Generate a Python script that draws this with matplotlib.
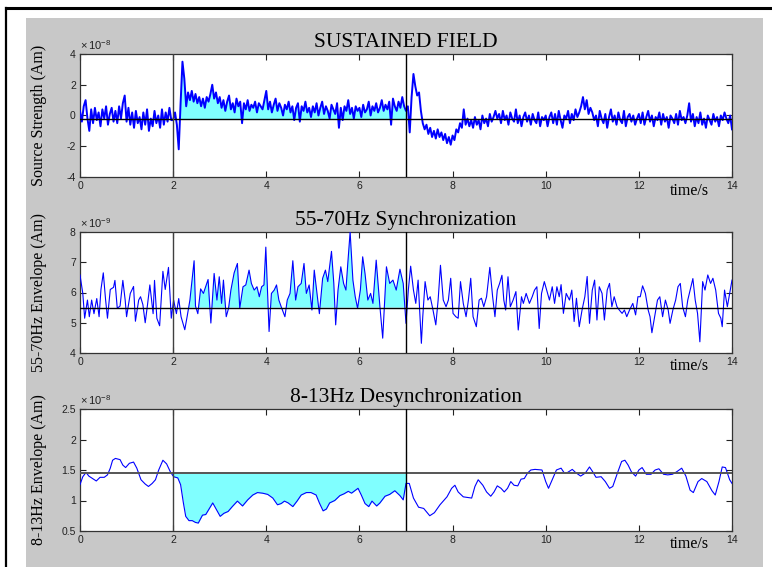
import numpy as np
import matplotlib.pyplot as plt
from matplotlib.patches import Rectangle
from matplotlib.lines import Line2D

# ---- panel 1: source strength, units of 1e-9 Am, sampled every 0.04 s ----
src_strength = [
    3, -4, 6, 10, -2, -10, 4, -5, 5, -3, 2, -7, 4, -2, 6, -6, 1, 5, -4, 3, -5, 6, -2, 8, 13,
    -4, 5, -6, 2, -8, 3, -5, -1, -9, 2, -6, 4, -10, -2, -7, 3, -5, 0, -8, 4, -6, 2, -4, 5, -3,
    -3, 2, -6, -22, 8, 35, 24, 6, 15, 10, 16, 9, 14, 8, 12, 6, 11, 5, 12, 9, 14, 20, 11, 15, 8,
    12, 5, 10, 3, 9, 13, 4, 8, 2, 11, 6, 9, -5, 8, 4, 10, 3, 7, 5, 9, 2, 8, 6, 4, 10,
    16, 4, 9, 2, 7, 11, 3, 8, 5, 0, 7, 4, 9, 2, 6, -3, 5, 8, -4, 6, 3, 9, 2, 5, -1,
    6, 2, 8, 0, 5, 9, 1, 6, 3, -2, 7, 4, 1, 8, -8, 5, -3, 6, 3, 10, 1, 5, -2, 6, 3,
    5, -1, 7, 2, 4, 9, 0, 6, 3, 8, 2, 5, 10, 3, 7, 4, 9, -6, 11, 6, 3, 9, 5, 12, 6,
    3, 6, -11, 12, 27, 19, 13, 15, 3, -5, -9, -6, -12, -8, -14, -10, -15, -9, -14, -11, -16, -12, -18, -14, -19,
    -13, -16, -9, -11, -5, -8, 4, -6, -2, -7, -3, -8, -1, -6, -3, -9, 0, -5, -2, -7, 1, -4, -1, 3, -2,
    1, -5, 3, -3, 0, -6, 2, -2, -4, 4, -5, 0, -7, -1, 2, -4, 0, -6, 1, -3, -5, 2, -7, -1, -3,
    0, -7, -1, 2, -5, 1, -6, 3, -3, -8, 0, -2, 3, -5, 1, -3, 4, -1, 2, 6, 12, 4, 10, 1, 5,
    2, -3, 0, -7, 3, -2, -5, 1, -8, -1, 4, -4, 0, -6, 2, -3, -5, 3, -7, -1, 1, -4, 0, -6, -2,
    1, -5, 2, -6, -1, 3, -4, 0, -7, -1, -3, 2, -6, 1, -4, -1, -8, 0, -2, -5, 1, -6, 3, -3, -1,
    -5, 0, 8, -4, 1, -7, -1, -5, 2, -6, -2, -8, 0, -3, -6, 1, -4, -1, -7, 0, -3, 2, -2, -5, 0, -9,
]
src_base = -0.23

# ---- panel 2: 55-70Hz envelope, units of 1e-9 Am ----
gamma_t = [
    0.00, 0.06, 0.10, 0.16, 0.20, 0.25, 0.30, 0.36, 0.41, 0.45, 0.50, 0.55, 0.59, 0.65, 0.72, 0.75,
    0.80, 0.86, 0.92, 0.97, 1.00, 1.08, 1.15, 1.19, 1.26, 1.30, 1.35, 1.40, 1.45, 1.50, 1.57, 1.60,
    1.65, 1.71, 1.78, 1.83, 1.90, 1.96, 2.01, 2.07, 2.12, 2.17, 2.25, 2.30, 2.36, 2.45, 2.48, 2.53,
    2.59, 2.65, 2.70, 2.75, 2.81, 2.88, 2.94, 2.99, 3.04, 3.08, 3.14, 3.19, 3.24, 3.31, 3.38, 3.43,
    3.50, 3.56, 3.63, 3.68, 3.74, 3.80, 3.85, 3.90, 3.95, 3.99, 4.03, 4.06, 4.11, 4.17, 4.22, 4.27,
    4.32, 4.40, 4.45, 4.51, 4.57, 4.63, 4.68, 4.75, 4.81, 4.86, 4.92, 4.98, 5.03, 5.09, 5.14, 5.21,
    5.27, 5.32, 5.40, 5.45, 5.49, 5.54, 5.60, 5.66, 5.71, 5.75, 5.80, 5.86, 5.91, 5.96, 6.02, 6.07,
    6.12, 6.18, 6.24, 6.29, 6.36, 6.44, 6.50, 6.58, 6.65, 6.72, 6.79, 6.87, 6.94, 7.00, 7.05, 7.10,
    7.16, 7.21, 7.26, 7.33, 7.36, 7.41, 7.47, 7.52, 7.58, 7.64, 7.69, 7.74, 7.80, 7.86, 7.91, 7.96,
    8.01, 8.07, 8.12, 8.17, 8.23, 8.29, 8.34, 8.39, 8.44, 8.51, 8.57, 8.62, 8.67, 8.73, 8.80, 8.86,
    8.91, 8.96, 9.01, 9.06, 9.10, 9.14, 9.19, 9.24, 9.30, 9.36, 9.41, 9.48, 9.52, 9.58, 9.65, 9.71,
    9.76, 9.81, 9.86, 9.91, 9.97, 10.02, 10.08, 10.14, 10.19, 10.24, 10.29, 10.33, 10.38, 10.44, 10.51, 10.56,
    10.61, 10.66, 10.72, 10.78, 10.84, 10.89, 10.94, 11.00, 11.05, 11.10, 11.15, 11.21, 11.26, 11.32, 11.37, 11.42,
    11.47, 11.53, 11.58, 11.64, 11.69, 11.74, 11.80, 11.87, 11.93, 11.98, 12.03, 12.08, 12.14, 12.20, 12.24, 12.28,
    12.34, 12.40, 12.45, 12.51, 12.57, 12.63, 12.67, 12.73, 12.79, 12.84, 12.89, 12.94, 13.00, 13.05, 13.10, 13.16,
    13.21, 13.26, 13.31, 13.37, 13.42, 13.48, 13.54, 13.59, 13.65, 13.71, 13.76, 13.79, 13.84, 13.90, 13.95, 14.00,
]
gamma_env = [
    6.58, 5.97, 5.15, 5.75, 5.20, 5.75, 5.30, 5.80, 5.20, 6.10, 6.65, 5.75, 5.15, 6.10, 6.17, 6.40,
    5.48, 5.55, 6.40, 5.75, 5.20, 5.97, 6.20, 5.05, 5.75, 5.86, 5.60, 5.00, 5.60, 6.25, 5.30, 6.40,
    5.15, 4.90, 6.70, 6.10, 6.83, 5.15, 5.75, 5.30, 5.80, 5.20, 4.77, 5.20, 5.75, 7.05, 5.55, 5.30,
    6.12, 5.97, 6.20, 6.43, 4.99, 6.63, 5.75, 6.52, 5.64, 6.41, 5.20, 5.48, 6.08, 6.65, 6.96, 5.48,
    6.19, 6.25, 6.74, 6.30, 6.08, 6.19, 5.86, 6.19, 6.25, 7.50, 5.86, 4.71, 5.97, 6.08, 6.25, 5.75,
    5.53, 5.20, 5.75, 5.97, 7.05, 5.75, 6.19, 6.30, 6.96, 5.97, 6.25, 5.42, 6.74, 5.97, 5.30, 6.47,
    6.74, 6.36, 7.36, 6.30, 4.93, 6.08, 6.85, 6.30, 6.08, 6.96, 8.00, 6.41, 5.86, 5.48, 6.08, 7.18,
    6.63, 5.75, 5.97, 5.64, 7.07, 5.53, 4.49, 6.85, 6.30, 6.41, 6.08, 6.77, 6.30, 4.98, 6.08, 6.87,
    6.08, 5.64, 6.41, 4.32, 5.20, 6.36, 5.75, 5.86, 5.42, 4.93, 5.75, 6.90, 5.75, 5.53, 5.75, 6.47,
    5.31, 5.20, 5.15, 6.36, 5.64, 5.20, 5.75, 6.47, 5.20, 4.87, 5.75, 5.81, 5.53, 5.86, 6.83, 5.86,
    5.20, 6.08, 6.30, 6.57, 5.75, 5.42, 6.52, 5.53, 5.75, 6.03, 4.76, 5.86, 5.64, 5.97, 5.64, 5.86,
    6.08, 6.19, 4.81, 5.97, 6.36, 6.08, 5.75, 6.19, 5.64, 6.19, 5.86, 6.26, 5.31, 5.97, 5.75, 6.08,
    5.04, 5.81, 4.87, 5.42, 5.86, 6.53, 4.98, 6.08, 6.41, 5.09, 6.19, 5.97, 5.09, 6.08, 6.30, 5.53,
    5.86, 5.53, 5.42, 5.31, 5.42, 5.20, 5.42, 5.64, 5.26, 5.86, 5.86, 6.22, 5.97, 5.42, 5.20, 4.67,
    5.20, 5.75, 5.86, 5.20, 5.75, 5.42, 4.98, 5.42, 5.75, 6.19, 6.30, 5.53, 5.20, 5.75, 6.08, 6.46,
    5.75, 5.31, 4.37, 6.36, 6.08, 6.58, 6.30, 6.47, 6.08, 5.31, 5.15, 4.87, 6.08, 5.53, 5.97, 6.41,
]
gamma_base = 5.5

# ---- panel 3: 8-13Hz envelope, units of 1e-8 Am ----
alpha_t = [
    0.00, 0.06, 0.13, 0.19, 0.25, 0.35, 0.43, 0.52, 0.59, 0.65, 0.70, 0.76, 0.86, 0.92, 0.98, 1.06,
    1.15, 1.22, 1.31, 1.40, 1.47, 1.55, 1.62, 1.69, 1.78, 1.86, 1.94, 2.01, 2.10, 2.16, 2.22, 2.27,
    2.34, 2.41, 2.48, 2.54, 2.63, 2.70, 2.77, 2.85, 2.93, 3.01, 3.09, 3.18, 3.27, 3.38, 3.49, 3.60,
    3.71, 3.81, 3.92, 4.03, 4.14, 4.24, 4.32, 4.39, 4.47, 4.57, 4.66, 4.75, 4.86, 4.96, 5.07, 5.14,
    5.22, 5.29, 5.36, 5.47, 5.58, 5.67, 5.76, 5.83, 5.90, 5.97, 6.04, 6.12, 6.20, 6.27, 6.37, 6.44,
    6.55, 6.65, 6.76, 6.87, 6.94, 7.00, 7.07, 7.16, 7.27, 7.38, 7.51, 7.61, 7.73, 7.88, 7.98, 8.05,
    8.12, 8.23, 8.32, 8.41, 8.48, 8.55, 8.65, 8.73, 8.82, 8.89, 8.96, 9.04, 9.11, 9.18, 9.25, 9.32,
    9.40, 9.47, 9.54, 9.61, 9.68, 9.77, 9.92, 10.00, 10.06, 10.14, 10.23, 10.33, 10.40, 10.47, 10.57, 10.64,
    10.75, 10.85, 10.94, 11.01, 11.08, 11.19, 11.28, 11.37, 11.44, 11.54, 11.63, 11.70, 11.77, 11.84, 11.93, 12.00,
    12.07, 12.16, 12.26, 12.35, 12.43, 12.53, 12.62, 12.72, 12.81, 12.92, 13.01, 13.10, 13.17, 13.27, 13.35, 13.46,
    13.57, 13.64, 13.72, 13.79, 13.86, 13.95, 14.00,
]
alpha_env = [
    1.26, 1.39, 1.46, 1.40, 1.37, 1.32, 1.38, 1.38, 1.42, 1.53, 1.66, 1.69, 1.67, 1.58, 1.54, 1.61,
    1.63, 1.53, 1.34, 1.27, 1.23, 1.28, 1.34, 1.50, 1.66, 1.60, 1.47, 1.39, 1.37, 1.26, 0.96, 0.74,
    0.67, 0.67, 0.64, 0.63, 0.76, 0.77, 0.86, 0.96, 0.85, 0.74, 0.79, 0.82, 0.90, 0.99, 0.91, 1.01,
    1.09, 1.13, 1.12, 1.10, 1.04, 0.93, 0.95, 0.99, 0.96, 0.90, 0.99, 1.09, 1.13, 1.13, 1.09, 0.96,
    0.83, 0.86, 0.96, 1.00, 1.08, 1.11, 1.15, 1.12, 1.16, 1.20, 1.09, 0.95, 0.90, 0.99, 0.91, 0.96,
    1.07, 1.10, 1.16, 1.08, 1.01, 1.28, 1.28, 1.04, 0.89, 0.87, 0.75, 0.80, 0.93, 1.06, 1.20, 1.25,
    1.14, 1.06, 1.05, 1.04, 1.23, 1.34, 1.25, 1.14, 1.07, 1.14, 1.24, 1.20, 1.14, 1.20, 1.31, 1.25,
    1.24, 1.35, 1.36, 1.45, 1.50, 1.51, 1.50, 1.31, 1.20, 1.34, 1.50, 1.53, 1.45, 1.46, 1.51, 1.46,
    1.40, 1.45, 1.55, 1.47, 1.38, 1.39, 1.31, 1.20, 1.23, 1.45, 1.64, 1.66, 1.58, 1.47, 1.40, 1.50,
    1.54, 1.43, 1.43, 1.50, 1.52, 1.43, 1.42, 1.43, 1.47, 1.53, 1.40, 1.17, 1.13, 1.31, 1.36, 1.31,
    1.16, 1.09, 1.31, 1.55, 1.54, 1.34, 1.28,
]
alpha_base = 1.45

serif = 'Liberation Serif'
sans = 'Liberation Sans'
line_blue = (0, 0, 1)
fill_cyan = '#80ffff'

plt.rcParams['mathtext.fontset'] = 'custom'
plt.rcParams['mathtext.rm'] = sans
plt.rcParams['mathtext.it'] = sans

fig = plt.figure(figsize=(7.72, 5.67), dpi=100)
fig.patch.set_facecolor('white')
fig.add_artist(Rectangle((26 / 772, 0), (763 - 26) / 772, (567 - 18) / 567,
                         transform=fig.transFigure, facecolor='#c8c8c8', edgecolor='none', zorder=0))
fig.add_artist(Line2D([6 / 772, 1], [1 - 7.5 / 567, 1 - 7.5 / 567], transform=fig.transFigure,
                      color='black', lw=2.2))
fig.add_artist(Line2D([6 / 772, 6 / 772], [0, 1 - 7.5 / 567], transform=fig.transFigure,
                      color='black', lw=1.6))

left, width = 80 / 772, 652 / 772
ax1 = fig.add_axes([left, 1 - 177 / 567, width, 123 / 567])
ax2 = fig.add_axes([left, 1 - 353 / 567, width, 121 / 567])
ax3 = fig.add_axes([left, 1 - 531 / 567, width, 122 / 567])


def style(ax, title, ylabel, yticks, ylabels, expo):
    ax.set_xlim(0, 14)
    ax.set_xticks(range(0, 15, 2))
    ax.set_xticklabels([str(v) for v in range(0, 15, 2)])
    ax.set_yticks(yticks)
    ax.set_yticklabels(ylabels)
    ax.set_ylim(yticks[0], yticks[-1])
    ax.tick_params(direction='in', length=4, width=0.8, top=True, right=True,
                   labelsize=7.5, colors='#222222', pad=3)
    for lab in ax.get_xticklabels() + ax.get_yticklabels():
        lab.set_fontfamily(sans)
    for sp in ax.spines.values():
        sp.set_color('#333333')
        sp.set_linewidth(0.9)
    ax.set_title(title, fontfamily=serif, fontsize=15.5, pad=5)
    ax.set_ylabel(ylabel, fontfamily=serif, fontsize=11.5)
    ax.yaxis.set_label_coords(-0.05, 0.5)
    ax.text(0.0, 1.07, r'$\times\,10^{%d}$' % expo, transform=ax.transAxes,
            ha='left', va='center', fontsize=8, color='#222222')
    ax.text(0.935, -0.11, 'time/s', transform=ax.transAxes, ha='center', va='center',
            fontfamily=serif, fontsize=11.5)
    ax.axvline(2, color='#404040', lw=1.0, zorder=4)
    ax.axvline(7, color='black', lw=1.0, zorder=4)


# panel 1
y1 = np.array(src_strength) / 10.0
t1 = np.linspace(0, 14, len(y1))
m1 = (t1 >= 2.14) & (t1 <= 7.0)
ax1.fill_between(t1, src_base, y1, where=m1 & (y1 > src_base), interpolate=True,
                 color=fill_cyan, lw=0, zorder=1)
ax1.plot(t1, y1, color=line_blue, lw=1.4, zorder=3)
ax1.axhline(src_base, color='black', lw=1.0, zorder=4)
style(ax1, 'SUSTAINED FIELD', 'Source Strength (Am)', [-4, -2, 0, 2, 4],
      ['-4', '-2', '0', '2', '4'], -8)

# panel 2
t2 = np.array(gamma_t)
y2 = np.array(gamma_env)
m2 = (t2 >= 2.36) & (t2 <= 7.0)
ax2.fill_between(t2, gamma_base, y2, where=m2 & (y2 > gamma_base), interpolate=True,
                 color=fill_cyan, lw=0, zorder=1)
ax2.plot(t2, y2, color=line_blue, lw=0.8, zorder=3)
ax2.axhline(gamma_base, color='black', lw=1.0, zorder=4)
style(ax2, '55-70Hz Synchronization', '55-70Hz Envelope (Am)', [4, 5, 6, 7, 8],
      ['4', '5', '6', '7', '8'], -9)

# panel 3
t3 = np.array(alpha_t)
y3 = np.array(alpha_env)
m3 = (t3 >= 2.0) & (t3 <= 7.0)
ax3.fill_between(t3, alpha_base, y3, where=m3 & (y3 < alpha_base), interpolate=True,
                 color=fill_cyan, lw=0, zorder=1)
ax3.plot(t3, y3, color=line_blue, lw=0.8, zorder=3)
ax3.axhline(alpha_base, color='#555555', lw=1.4, zorder=4)
style(ax3, '8-13Hz Desynchronization', '8-13Hz Envelope (Am)', [0.5, 1, 1.5, 2, 2.5],
      ['0.5', '1', '1.5', '2', '2.5'], -8)

fig.savefig('out.png', dpi=100)
